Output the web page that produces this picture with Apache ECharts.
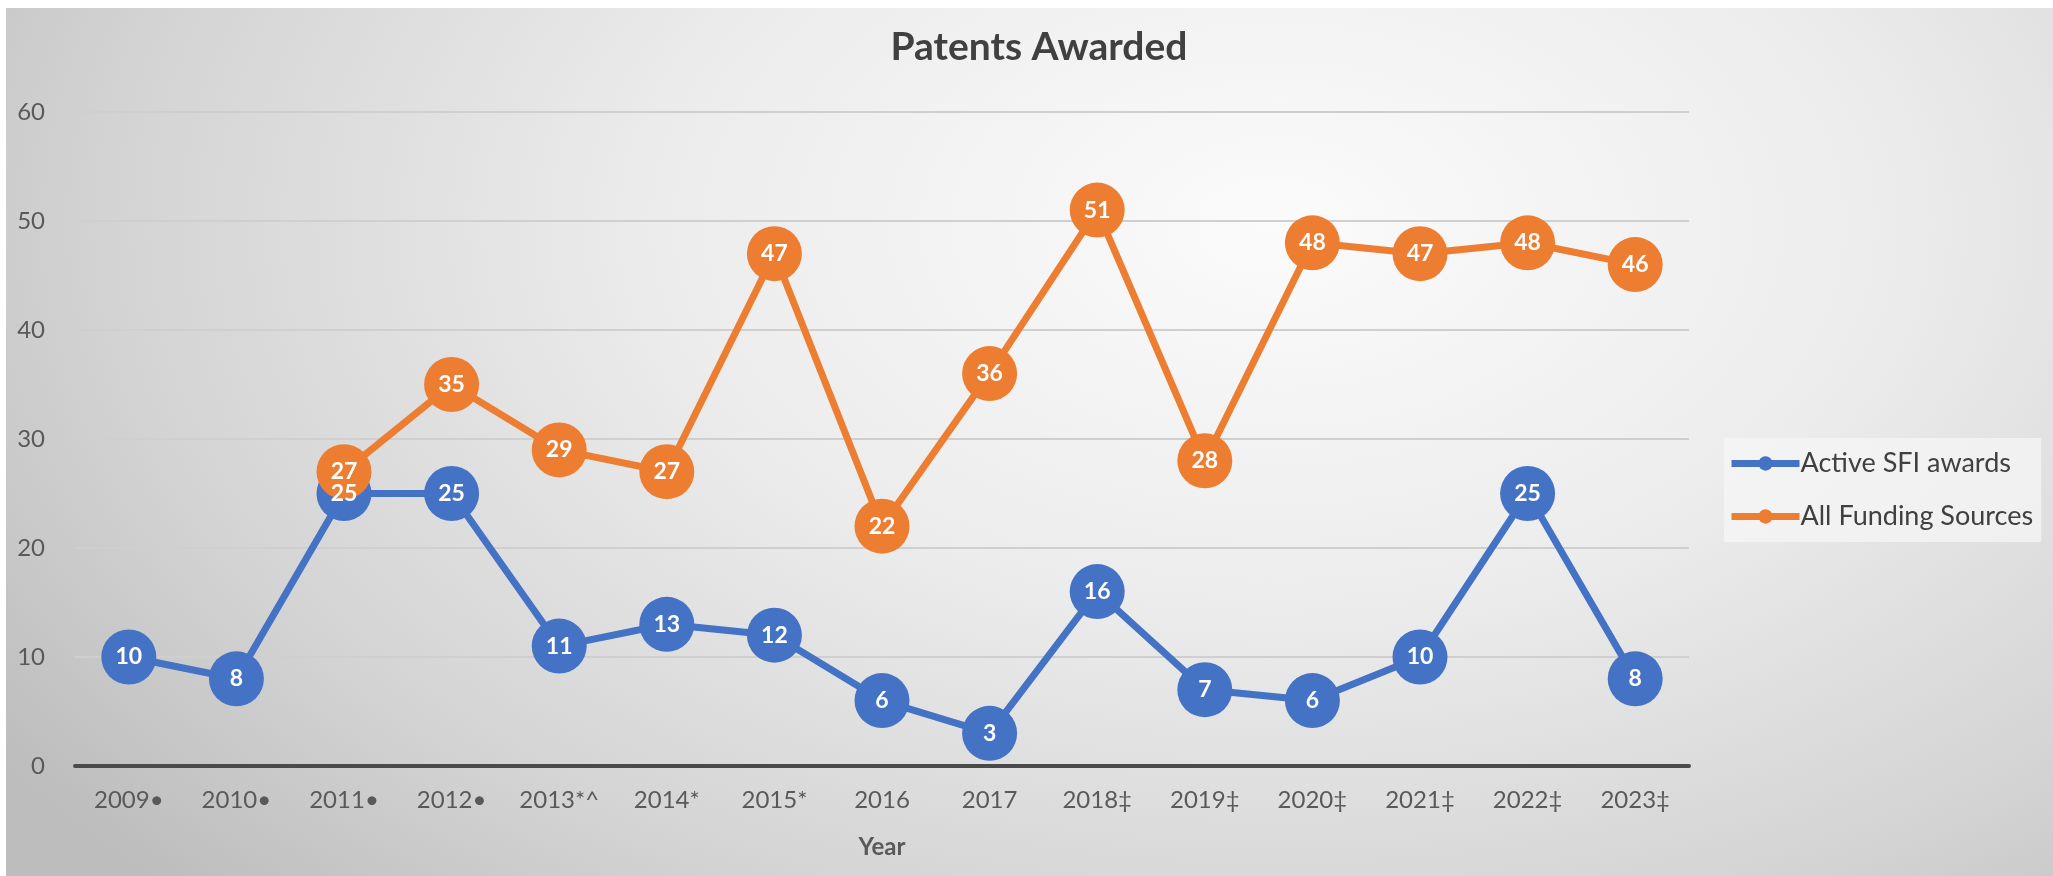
<!DOCTYPE html>
<html>
<head>
<meta charset="utf-8">
<script src="https://cdn.jsdelivr.net/npm/echarts@6/dist/echarts.min.js"></script>
<style>
  html, body { margin: 0; padding: 0; background: #ffffff; }
  #bg {
    position: absolute; left: 6px; top: 8px; width: 2047px; height: 868px;
    background: radial-gradient(ellipse 75% 110% at 62% 25%, #fbfbfb 0%, #ececec 40%, #d4d4d4 75%, #bdbdbd 100%);
  }
  #chart { position: absolute; left: 0; top: 0; width: 2053px; height: 876px; }
</style>
</head>
<body>
<div id="bg"></div>
<div id="chart"></div>
<script>
  const years = ["2009•", "2010•", "2011•", "2012•", "2013*^", "2014*", "2015*", "2016", "2017", "2018‡", "2019‡", "2020‡", "2021‡", "2022‡", "2023‡"];
  const activeSfi = [10, 8, 25, 25, 11, 13, 12, 6, 3, 16, 7, 6, 10, 25, 8];
  const allSources = [null, null, 27, 35, 29, 27, 47, 22, 36, 51, 28, 48, 47, 48, 46];

  const FONT = "Lato, 'Open Sans', sans-serif";

  const chart = echarts.init(document.getElementById("chart"));

  const lineSeries = (name, data, color) => ({
    name: name,
    type: "line",
    data: data,
    symbol: "circle",
    symbolSize: 55,
    itemStyle: { color: color },
    lineStyle: { color: color, width: 7 },
    label: {
      show: true,
      position: "inside",
      color: "#ffffff",
      fontWeight: "bold",
      fontSize: 23,
      fontFamily: FONT,
    },
  });

  chart.setOption({
    backgroundColor: "transparent",
    animation: false,
    title: {
      text: "Patents Awarded",
      left: 1034,
      textAlign: "center",
      top: 23,
      textStyle: { fontFamily: FONT, fontWeight: "bold", fontSize: 39, color: "#404040" },
    },
    grid: { left: 75, right: 364, top: 112, bottom: 110 },
    legend: {
      orient: "vertical",
      left: 1724,
      top: 438,
      padding: [12, 8, 12, 4],
      itemGap: 26,
      itemWidth: 68,
      itemHeight: 18,
      lineStyle: { width: 7 },
      backgroundColor: "rgba(245,245,245,0.75)",
      textStyle: { fontFamily: FONT, fontSize: 27, color: "#404040", padding: [0, 0, 0, -4] },
      data: ["Active SFI awards", "All Funding Sources"],
    },
    xAxis: {
      type: "category",
      data: years,
      name: "Year",
      nameLocation: "middle",
      nameGap: 69,
      nameTextStyle: { fontFamily: FONT, fontWeight: "bold", fontSize: 24, color: "#595959" },
      axisLine: { lineStyle: { color: "#4a4a4a", width: 4 } },
      axisTick: { show: false },
      axisLabel: { fontFamily: FONT, fontSize: 24, color: "#595959", margin: 22 },
    },
    yAxis: {
      type: "value",
      min: 0,
      max: 60,
      interval: 10,
      axisLine: { show: false },
      axisTick: { show: false },
      axisLabel: { fontFamily: FONT, fontSize: 24, color: "#595959", margin: 30 },
      splitLine: { lineStyle: { color: "#cfcfcf", width: 2 } },
    },
    series: [
      lineSeries("Active SFI awards", activeSfi, "#4472C4"),
      lineSeries("All Funding Sources", allSources, "#ED7D31"),
    ],
  });
</script>
</body>
</html>
